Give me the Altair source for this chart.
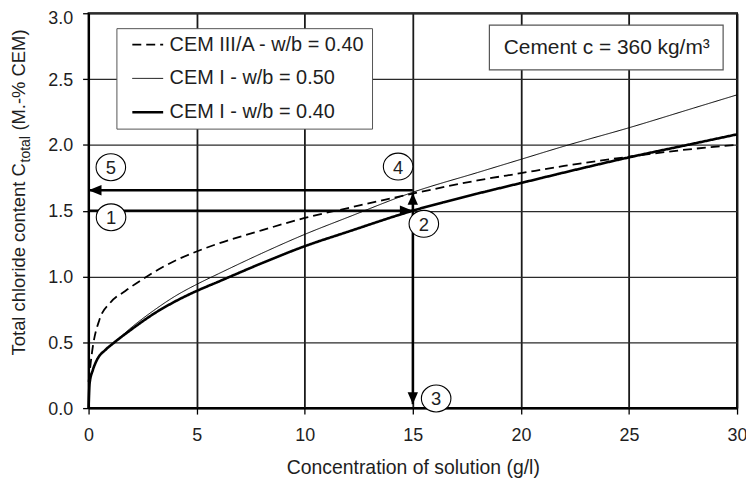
import altair as alt
import pandas as pd

# ---------------- data ----------------
series_order = ["CEM III/A - w/b = 0.40", "CEM I - w/b = 0.50", "CEM I - w/b = 0.40"]

x_cem1 = [0, 0.05, 0.2, 0.4, 0.8, 1.2, 2, 3, 4, 5, 6, 8, 10, 12, 15, 18, 20, 22, 25, 28, 30]
y_cem1_040 = [0, 0.19, 0.29, 0.37, 0.445, 0.5, 0.6, 0.715, 0.81, 0.89, 0.96, 1.10, 1.23, 1.34,
              1.50, 1.63, 1.71, 1.79, 1.905, 2.01, 2.08]
y_cem1_050 = [0, 0.19, 0.29, 0.37, 0.445, 0.5, 0.615, 0.74, 0.85, 0.94, 1.02, 1.175, 1.32, 1.45,
              1.64, 1.79, 1.89, 1.99, 2.13, 2.28, 2.38]

x_cem3 = [0, 0.2, 0.5, 1, 1.7, 2.7, 4, 5, 6, 8, 10, 12, 15, 18, 20, 22, 25, 28, 30]
y_cem3_040 = [0.2, 0.47, 0.67, 0.8, 0.89, 1.0, 1.12, 1.19, 1.25, 1.35, 1.445, 1.52, 1.63, 1.73,
              1.785, 1.84, 1.91, 1.97, 2.0]

x_ticks = [0, 5, 10, 15, 20, 25, 30]
y_ticks = [0.0, 0.5, 1.0, 1.5, 2.0, 2.5, 3.0]

# arrows (reading path 1 -> 2 -> 3 and 2 -> 4 -> 5)
arrow_x1 = [0, 15, 15, 15]
arrow_x2 = [15, 15, 0, 15]
arrow_y1 = [1.5, 1.5, 1.655, 1.5]
arrow_y2 = [1.5, 1.635, 1.655, 0.03]
arrow_dir = ["right", "up", "left", "down"]

# circled step numbers
step_labels = ["1", "2", "3", "4", "5"]
step_x = [1.04, 15.51, 16.08, 14.32, 1.03]
step_y = [1.45, 1.40, 0.073, 1.835, 1.83]

note_text = "Cement c = 360 kg/m³"
x_title = "Concentration of solution (g/l)"
y_title_parts = ["Total chloride content C", "total", "(M.-% CEM)"]

# ---------------- tables ----------------
curves = pd.concat([
    pd.DataFrame({"x": x_cem3, "y": y_cem3_040, "series": series_order[0]}),
    pd.DataFrame({"x": x_cem1, "y": y_cem1_050, "series": series_order[1]}),
    pd.DataFrame({"x": x_cem1, "y": y_cem1_040, "series": series_order[2]}),
], ignore_index=True)

arrows = pd.DataFrame({"x": arrow_x1, "x2": arrow_x2, "y": arrow_y1, "y2": arrow_y2, "dir": arrow_dir})
heads = pd.DataFrame({"x": arrow_x2, "y": arrow_y2, "dir": arrow_dir})
steps = pd.DataFrame({"x": step_x, "y": step_y, "label": step_labels})
one = pd.DataFrame({"a": [0]})

FONT = "Liberation Sans"
TXT = "#1e1e1e"

xscale = alt.Scale(domain=[0, 30], nice=False, zero=True)
yscale = alt.Scale(domain=[0, 3], nice=False, zero=True)
xaxis = alt.Axis(values=x_ticks, title=x_title, format="d", grid=True, labelFlush=False,
                 gridColor="#1a1a1a", gridWidth=1.8)
yaxis = alt.Axis(values=y_ticks, title=None, format=".1f", grid=True, labelFlush=False,
                 gridColor="#2a2a2a", gridWidth=1.3,
                 labelOffset={"condition": {"test": "datum.value >= 2.9", "value": 5.5}, "value": 1})


def X(field="x"):
    return alt.X(f"{field}:Q", scale=xscale, axis=xaxis)


def Y(field="y"):
    return alt.Y(f"{field}:Q", scale=yscale, axis=yaxis)


legend = alt.Legend(
    title=None, orient="none", legendX=28, legendY=15,
    symbolType="stroke", symbolSize=961, symbolStrokeColor="black",
    symbolOffset=8, labelOffset=5, labelFontSize=20, labelColor=TXT, labelFont=FONT,
    clipHeight=20, rowPadding=14, padding=6.5,
    fillColor="white", strokeColor="#555555", cornerRadius=0, labelLimit=400,
)

lines = alt.Chart(curves).mark_line(interpolate="monotone", color="black").encode(
    x=X(), y=Y(),
    strokeDash=alt.StrokeDash("series:N",
                              scale=alt.Scale(domain=series_order, range=[[9, 5], [1, 0], [1, 0]]),
                              legend=legend),
    strokeWidth=alt.StrokeWidth("series:N",
                                scale=alt.Scale(type="ordinal", domain=series_order,
                                                range=[1.8, 1.0, 2.6]),
                                legend=legend),
    detail="series:N",
)

arrow_lines = alt.Chart(arrows).mark_rule(color="black", strokeWidth=2.4).encode(
    x=X(), x2="x2:Q", y=Y(), y2="y2:Q",
)

head_paths = ["M0,0L-6.5,-2.6L-6.5,2.6Z", "M0,0L-2.6,6L2.6,6Z",
              "M0,0L6.5,-2.6L6.5,2.6Z", "M0,0L-2.6,-6L2.6,-6Z"]
arrow_heads = alt.Chart(heads).mark_point(filled=True, color="black", opacity=1, size=16).encode(
    x=X(), y=Y(),
    shape=alt.Shape("dir:N", scale=alt.Scale(domain=["right", "up", "left", "down"], range=head_paths),
                    legend=None),
)

ellipse = "M-1.1,0A1.1,1,0,1,0,1.1,0A1.1,1,0,1,0,-1.1,0Z"
step_circles = alt.Chart(steps).mark_point(
    shape=ellipse, filled=True, fill="white", stroke="black", strokeWidth=1.1, size=729, opacity=1
).encode(x=X(), y=Y())
step_text = alt.Chart(steps).mark_text(fontSize=18.5, color=TXT, font=FONT, baseline="middle",
                                        align="center", dy=1).encode(
    x=X(), y=Y(), text="label:N",
)

note_box = alt.Chart(one).mark_rect(fill="white", stroke="#555555", strokeWidth=1.2).encode(
    x=alt.value(403), x2=alt.value(638), y=alt.value(12), y2=alt.value(57),
)
note = alt.Chart(one).mark_text(fontSize=21, color=TXT, font=FONT, align="center",
                                baseline="middle").encode(
    x=alt.value(521), y=alt.value(35), text=alt.value(note_text),
)

yt1 = alt.Chart(one).mark_text(fontSize=18.5, color=TXT, font=FONT, angle=270, align="left",
                               baseline="alphabetic").encode(
    x=alt.value(-64), y=alt.value(344), text=alt.value(y_title_parts[0]))
yt2 = alt.Chart(one).mark_text(fontSize=14, color=TXT, font=FONT, angle=270, align="left",
                               baseline="alphabetic").encode(
    x=alt.value(-58.5), y=alt.value(150), text=alt.value(y_title_parts[1]))
yt3 = alt.Chart(one).mark_text(fontSize=18.5, color=TXT, font=FONT, angle=270, align="left",
                               baseline="alphabetic").encode(
    x=alt.value(-64), y=alt.value(118), text=alt.value(y_title_parts[2]))

chart = alt.layer(
    lines, arrow_lines, arrow_heads, step_circles, step_text, note_box, note, yt1, yt2, yt3
).properties(
    width=652, height=397,
    autosize=alt.AutoSizeParams(type="none"),
    padding={"left": 81, "top": 4, "right": 9, "bottom": 71},
).configure(
    font=FONT,
).configure_view(
    stroke="black", strokeWidth=2,
).configure_axis(
    domainColor="black", domainWidth=2, tickColor="black", tickWidth=1.3, tickSize=6,
    labelFontSize=18, labelColor=TXT, labelFont=FONT,
    titleFontSize=19.5, titleFontWeight="normal", titleColor=TXT, titleFont=FONT,
).configure_axisX(
    labelPadding=13, titlePadding=14,
).configure_axisY(
    labelPadding=10,
)

chart.save("out.html", embed_options={"renderer": "svg", "actions": False})
